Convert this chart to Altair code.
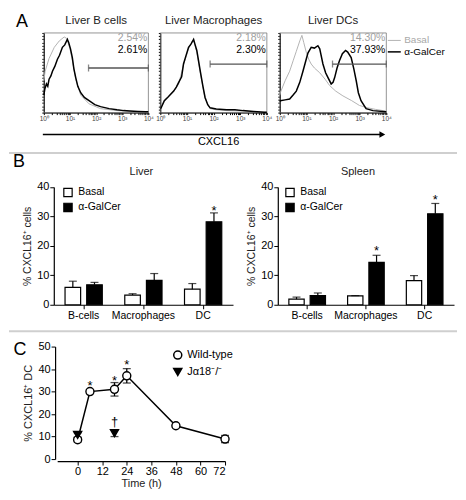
import math
import altair as alt
import pandas as pd

FONT = "Liberation Sans"
W, H = 450, 484
SERIES = ["Basal", "α-GalCer"]

# ---------------- Panel A: CXCL16 histograms (x = log10 decade, y = % of max) ----------------
hist_titles = ["Liver B cells", "Liver Macrophages", "Liver DCs"]
hist_decade_labels = ["10⁰", "10¹", "10²", "10³", "10⁴"]

bcell_basal_dec = [0.0, 0.05, 0.2, 0.4, 0.59, 0.78, 0.88, 1.0, 1.09, 1.22, 1.41, 1.73, 2.17, 2.8, 3.3, 3.9, 4.0]
bcell_basal_pct = [40, 52, 68, 82, 90, 95, 93, 80, 66, 42, 22, 11, 5, 2.5, 1.5, 0.8, 0.8]
bcell_agal_dec = [0.0, 0.04, 0.1, 0.15, 0.2, 0.27, 0.33, 0.42, 0.52, 0.6, 0.71, 0.8, 0.9, 0.95, 1.02, 1.09,
                  1.15, 1.22, 1.3, 1.41, 1.55, 1.73, 1.95, 2.17, 2.5, 2.8, 3.05, 3.3, 3.6, 3.9, 4.0]
bcell_agal_pct = [22, 30, 36, 33, 42, 46, 52, 58, 67, 72, 82, 85, 92, 88, 80, 69,
                  55, 44, 33, 25, 19, 15, 10, 7.5, 5, 3.5, 2.5, 2, 1.5, 1, 1]

mac_basal_dec = [0.0, 0.15, 0.3, 0.5, 0.69, 0.87, 1.06, 1.2, 1.25, 1.37, 1.5, 1.68, 1.87, 2.1, 2.5, 3.1, 3.9, 4.0]
mac_basal_pct = [5, 14, 20, 26, 36, 60, 80, 90, 90, 76, 50, 18, 5, 3.5, 2.5, 2, 0.5, 0.5]
mac_agal_dec = [0.0, 0.03, 0.15, 0.3, 0.5, 0.6, 0.69, 0.8, 0.87, 0.95, 1.06, 1.15, 1.25, 1.3, 1.37, 1.45,
                1.5, 1.6, 1.68, 1.78, 1.87, 2.1, 2.49, 2.8, 3.1, 3.5, 3.9, 4.0]
mac_agal_pct = [5, 6, 15, 20, 27, 32, 38, 45, 61, 70, 82, 86, 92, 86, 78, 62,
                52, 33, 19, 10, 6, 4.5, 3.5, 3.5, 2.5, 1.5, 0.5, 0.5]

dc_basal_dec = [0.0, 0.02, 0.2, 0.37, 0.5, 0.62, 0.75, 0.83, 0.9, 1.0, 1.1, 1.18, 1.3, 1.5, 1.7, 1.87,
                2.1, 2.37, 2.7, 2.99, 3.3, 3.6, 3.97, 4.0]
dc_basal_pct = [22, 25, 40, 52, 65, 77, 90, 97, 88, 75, 66, 61, 56, 50, 42, 34,
                27, 21, 15, 9, 6, 4, 2, 2]
dc_agal_dec = [0.0, 0.02, 0.2, 0.37, 0.5, 0.62, 0.75, 0.87, 1.0, 1.06, 1.18, 1.3, 1.43, 1.5, 1.62, 1.72,
               1.81, 1.93, 2.0, 2.06, 2.15, 2.24, 2.35, 2.47, 2.55, 2.68, 2.78, 2.87, 2.95, 3.05,
               3.24, 3.5, 3.97, 4.0]
dc_agal_pct = [14, 15, 16, 17, 22, 27, 38, 52, 68, 75, 82, 81, 84, 80, 61, 50,
               44, 36, 38, 44, 56, 65, 74, 78, 76, 69, 55, 40, 25, 15,
               5, 2.5, 1, 1]

basal_pct_labels = ["2.54%", "2.18%", "14.30%"]
agal_pct_labels = ["2.61%", "2.30%", "37.93%"]
gate_start_dec = [1.71, 1.87, 1.98]
gate_level = [56, 61, 61]

# ---------------- Panel B: % CXCL16+ cells ----------------
CELLS = ["B-cells", "Macrophages", "DC"]
liver_basal = [5.9, 3.3, 5.3]
liver_basal_err = [2.1, 0.45, 1.9]
liver_agal = [6.8, 8.3, 28.2]
liver_agal_err = [0.8, 2.3, 3.0]
liver_star_cells = ["DC"]
liver_star_y = [32.7]

spleen_basal = [1.9, 3.0, 8.2]
spleen_basal_err = [0.7, 0.1, 1.7]
spleen_agal = [3.1, 14.4, 30.9]
spleen_agal_err = [0.9, 2.4, 3.5]
spleen_star_cells = ["Macrophages", "DC"]
spleen_star_y = [19.2, 36.6]

# ---------------- Panel C: time course ----------------
GENO = ["Wild-type", "Jα18⁻/⁻"]
time_wt = [0, 6, 18, 24, 48, 72]
cxcl_wt = [8.6, 30.0, 31.0, 37.0, 14.8, 8.9]
cxcl_wt_err = [1.0, 0.8, 3.0, 3.2, 0.6, 1.6]
time_ko = [0, 18]
cxcl_ko = [10.7, 11.5]
cxcl_ko_err = [1.0, 1.5]
star_times = [6, 18, 24]
star_y = [33.7, 36.2, 43.0]
dagger_time = [18]
dagger_y = [16.6]
time_ticks = [0, 12, 24, 36, 48, 60, 72]

# ---------------- layout (pixels in chart coordinates) ----------------
A_X_RANGES = [[35, 140], [152, 259], [272, 379]]
A_BOTTOM, A_TOP = 104, 24
B_BOTTOM, B_TOP = 297, 178.7
C_BOTTOM, C_TOP = 452, 339
C_X_RANGE = [48.4, 217]
C_XAXIS_Y = 454
C_YAXIS_X = 46.3

minor_ticks = [k + math.log10(m) for k in range(4) for m in range(1, 10)] + [4]
dec_label_expr = ("abs(datum.value - round(datum.value)) < 0.001 ? "
                  "['10⁰','10¹','10²','10³','10⁴'][round(datum.value)] : ''")

one = pd.DataFrame({"d": [0]})
layers = []


def hist_panel(i, bx, by, ax, ay, show_legend):
    xr = A_X_RANGES[i]
    xs = alt.Scale(domain=[0, 4], range=xr, nice=False, zero=False)
    ys = alt.Scale(domain=[0, 100], range=[A_BOTTOM, A_TOP], nice=False, zero=False)
    df = pd.DataFrame({"dec": bx + ax, "pct": by + ay,
                       "series": ["Basal"] * len(bx) + ["α-GalCer"] * len(ax)})
    legend = None
    if show_legend:
        legend = alt.Legend(title=None, orient="none", legendX=381, legendY=26,
                            symbolType="M-1.3,0L1.3,0", symbolSize=100, symbolStrokeWidth=1.6,
                            labelFontSize=10, labelOffset=4, rowPadding=0,
                            labelColor={"expr": "datum.label == 'Basal' ? '#a8a8a8' : '#000000'"})
    lines = alt.Chart(df).mark_line().encode(
        x=alt.X("dec:Q", scale=xs, axis=alt.Axis(
            orient="bottom", offset=A_BOTTOM - H, values=minor_ticks, labelExpr=dec_label_expr,
            tickSize=2, labelFontSize=6.5, labelColor="#444", labelPadding=1, title=None,
            labelFlush=False, labelOverlap=False, domainWidth=1)),
        y=alt.Y("pct:Q", scale=ys, axis=alt.Axis(
            orient="left", offset=-xr[0], values=list(range(0, 101, 4)), labels=False,
            tickSize=2, title=None, domainWidth=1)),
        color=alt.Color("series:N", scale=alt.Scale(domain=SERIES, range=["#b3b3b3", "#000000"]),
                        legend=legend),
        strokeWidth=alt.StrokeWidth("series:N", scale=alt.Scale(domain=SERIES, range=[1.0, 1.5]),
                                    legend=None),
    )
    frame = alt.Chart(pd.DataFrame({"x0": [0], "x1": [4], "y0": [0], "y1": [100]})).mark_rect(
        fillOpacity=0, stroke="#666", strokeWidth=0.7).encode(
        x=alt.X("x0:Q", scale=xs, axis=None), x2="x1:Q",
        y=alt.Y("y0:Q", scale=ys, axis=None), y2="y1:Q")
    gdf = pd.DataFrame({"g0": [gate_start_dec[i]], "g1": [4], "lvl": [gate_level[i]]})
    gate = alt.Chart(gdf).mark_rule(color="#555", strokeWidth=1.3).encode(
        x=alt.X("g0:Q", scale=xs, axis=None), x2="g1:Q",
        y=alt.Y("lvl:Q", scale=ys, axis=None))
    cdf = pd.DataFrame({"gx": [gate_start_dec[i], 4], "lvl": [gate_level[i]] * 2})
    caps = alt.Chart(cdf).mark_tick(color="#555", orient="vertical", size=7, thickness=1.3).encode(
        x=alt.X("gx:Q", scale=xs, axis=None), y=alt.Y("lvl:Q", scale=ys, axis=None))
    tdf = pd.DataFrame({"x": [4, 4], "y": [94, 78],
                        "t": [basal_pct_labels[i], agal_pct_labels[i]], "c": ["#a0a0a0", "#000000"]})
    pct = alt.Chart(tdf).mark_text(align="right", baseline="middle", fontSize=10.5, dx=-1).encode(
        x=alt.X("x:Q", scale=xs, axis=None), y=alt.Y("y:Q", scale=ys, axis=None),
        text="t:N", color=alt.Color("c:N", scale=None))
    ttl = alt.Chart(pd.DataFrame({"x": [2], "y": [115], "t": [hist_titles[i]]})).mark_text(
        baseline="middle", fontSize=11.5, color="#222").encode(
        x=alt.X("x:Q", scale=xs, axis=None), y=alt.Y("y:Q", scale=ys, axis=None), text="t:N")
    return [frame, lines, gate, caps, pct, ttl]


layers += hist_panel(0, bcell_basal_dec, bcell_basal_pct, bcell_agal_dec, bcell_agal_pct, False)
layers += hist_panel(1, mac_basal_dec, mac_basal_pct, mac_agal_dec, mac_agal_pct, False)
layers += hist_panel(2, dc_basal_dec, dc_basal_pct, dc_agal_dec, dc_agal_pct, True)

# CXCL16 arrow and label
layers.append(alt.Chart(one).mark_rule(color="black", strokeWidth=1.5).encode(
    x=alt.value(34), x2=alt.value(373), y=alt.value(126)))
layers.append(alt.Chart(one).mark_point(shape="triangle-right", filled=True, color="black",
                                        size=45, opacity=1).encode(x=alt.value(375), y=alt.value(126)))
layers.append(alt.Chart(one).mark_text(text="CXCL16", fontSize=11, baseline="middle").encode(
    x=alt.value(210.5), y=alt.value(133.5)))


def bar_panel(xr, basal, basal_err, agal, agal_err, s_cells, s_y, title, title_dx, legend_x):
    df = pd.DataFrame({"cell": CELLS * 2, "group": ["Basal"] * 3 + ["α-GalCer"] * 3,
                       "value": basal + agal, "err": basal_err + agal_err})
    xs = alt.Scale(domain=CELLS, range=xr, paddingInner=0.275, paddingOuter=0.1375)
    xo = alt.Scale(domain=SERIES, paddingInner=0.28, paddingOuter=0.14)
    ys = alt.Scale(domain=[0, 40], range=[B_BOTTOM, B_TOP], nice=False, zero=False)
    base = alt.Chart(df).transform_calculate(top="datum.value + datum.err")
    leg = alt.Legend(title=None, orient="none", legendX=legend_x, legendY=179, symbolType="square",
                     symbolSize=70, symbolStrokeColor="black", symbolStrokeWidth=1.2,
                     labelFontSize=10.5, labelOffset=5, rowPadding=1)
    bars = base.mark_bar(stroke="black", strokeWidth=1.2).encode(
        x=alt.X("cell:N", scale=xs, axis=alt.Axis(
            orient="bottom", offset=B_BOTTOM - H, title=None, labelAngle=0, labelFontSize=10.5,
            tickSize=4, labelPadding=2, domainWidth=1.2)),
        xOffset=alt.XOffset("group:N", scale=xo),
        y=alt.Y("value:Q", scale=ys, axis=alt.Axis(
            orient="left", offset=-xr[0], values=[0, 10, 20, 30, 40], tickSize=4, labelFontSize=11,
            labelPadding=1, title="% CXCL16⁺ cells", titleFontSize=10.5, titlePadding=4,
            domainWidth=1.2)),
        fill=alt.Fill("group:N", scale=alt.Scale(domain=SERIES, range=["white", "black"]), legend=leg))
    err = base.mark_rule(color="black", strokeWidth=1.2).encode(
        x=alt.X("cell:N", scale=xs, axis=None), xOffset=alt.XOffset("group:N", scale=xo),
        y=alt.Y("value:Q", scale=ys, axis=None), y2="top:Q")
    cap = base.mark_tick(color="black", thickness=1.2, size=8, orient="horizontal").encode(
        x=alt.X("cell:N", scale=xs, axis=None), xOffset=alt.XOffset("group:N", scale=xo),
        y=alt.Y("top:Q", scale=ys, axis=None))
    sdf = pd.DataFrame({"cell": s_cells, "group": ["α-GalCer"] * len(s_cells), "y": s_y})
    stars = alt.Chart(sdf).mark_text(text="*", fontSize=13, baseline="middle", dy=3, dx=-6).encode(
        x=alt.X("cell:N", scale=xs, axis=None), xOffset=alt.XOffset("group:N", scale=xo),
        y=alt.Y("y:Q", scale=ys, axis=None))
    ttl = alt.Chart(pd.DataFrame({"cell": ["Macrophages"], "y": [45], "t": [title]})).mark_text(
        baseline="middle", fontSize=11, dx=title_dx, color="#222").encode(
        x=alt.X("cell:N", scale=xs, axis=None), y=alt.Y("y:Q", scale=ys, axis=None), text="t:N")
    return [bars, err, cap, stars, ttl]


layers += bar_panel([45, 225], liver_basal, liver_basal_err, liver_agal, liver_agal_err,
                    liver_star_cells, liver_star_y, "Liver", -2, 54)
layers += bar_panel([270, 447], spleen_basal, spleen_basal_err, spleen_agal, spleen_agal_err,
                    spleen_star_cells, spleen_star_y, "Spleen", -8, 277)

# ---------------- Panel C layers ----------------
cdf = pd.DataFrame({
    "time": time_wt + time_ko,
    "cxcl": cxcl_wt + cxcl_ko,
    "err": cxcl_wt_err + cxcl_ko_err,
    "genotype": [GENO[0]] * len(time_wt) + [GENO[1]] * len(time_ko),
})
xsC = alt.Scale(domain=[-10, 72], range=C_X_RANGE, nice=False, zero=False)
ysC = alt.Scale(domain=[0, 50], range=[C_BOTTOM, C_TOP], nice=False, zero=False)
cbase = alt.Chart(cdf).transform_calculate(lo="datum.cxcl - datum.err", hi="datum.cxcl + datum.err")
layers.append(cbase.mark_rule(color="black", strokeWidth=1.3).encode(
    x=alt.X("time:Q", scale=xsC, axis=None), y=alt.Y("lo:Q", scale=ysC, axis=None), y2="hi:Q"))
for fld in ["lo", "hi"]:
    layers.append(cbase.mark_tick(color="black", thickness=1.3, size=8, orient="horizontal").encode(
        x=alt.X("time:Q", scale=xsC, axis=None), y=alt.Y(f"{fld}:Q", scale=ysC, axis=None)))
layers.append(alt.Chart(cdf[cdf.genotype == GENO[0]]).mark_line(color="black", strokeWidth=1.5).encode(
    x=alt.X("time:Q", scale=xsC, axis=None), y=alt.Y("cxcl:Q", scale=ysC, axis=None)))
legC = alt.Legend(title=None, orient="none", legendX=164, legendY=342, symbolSize=65,
                  symbolStrokeWidth=1.5, labelFontSize=11, rowPadding=3, labelOffset=4)
layers.append(alt.Chart(cdf).mark_point(filled=True, strokeWidth=1.4, opacity=1, size=65).encode(
    x=alt.X("time:Q", scale=xsC, axis=alt.Axis(
        orient="bottom", offset=C_XAXIS_Y - H, values=time_ticks, title="Time (h)", tickSize=4,
        labelFontSize=11, labelPadding=1, titleFontSize=11, titlePadding=1, domainWidth=1.2)),
    y=alt.Y("cxcl:Q", scale=ysC, axis=alt.Axis(
        orient="left", offset=-C_YAXIS_X, values=[0, 10, 20, 30, 40, 50], title="% CXCL16⁺ DC",
        tickSize=4, labelFontSize=11, labelPadding=1, titleFontSize=11, titlePadding=4,
        domainWidth=1.2)),
    shape=alt.Shape("genotype:N", scale=alt.Scale(domain=GENO, range=["circle", "triangle-down"]),
                    legend=legC),
    fill=alt.Fill("genotype:N", scale=alt.Scale(domain=GENO, range=["white", "black"]), legend=legC),
    stroke=alt.Stroke("genotype:N", scale=alt.Scale(domain=GENO, range=["black", "black"]), legend=legC),
))
layers.append(alt.Chart(pd.DataFrame({"t": star_times, "y": star_y})).mark_text(
    text="*", fontSize=13, baseline="middle", dy=3).encode(
    x=alt.X("t:Q", scale=xsC, axis=None), y=alt.Y("y:Q", scale=ysC, axis=None)))
layers.append(alt.Chart(pd.DataFrame({"t": dagger_time, "y": dagger_y})).mark_text(
    text="†", fontSize=13, baseline="middle").encode(
    x=alt.X("t:Q", scale=xsC, axis=None), y=alt.Y("y:Q", scale=ysC, axis=None)))

# ---------------- panel letters and separators ----------------
for letter, px, py in [("A", 13, 13), ("B", 10, 154), ("C", 11, 342)]:
    layers.append(alt.Chart(one).mark_text(text=letter, fontSize=18, baseline="middle").encode(
        x=alt.value(px), y=alt.value(py)))
for sy in [144.5, 323.5]:
    layers.append(alt.Chart(one).mark_rule(color="#cfcfcf", strokeWidth=2).encode(
        x=alt.value(0), x2=alt.value(W), y=alt.value(sy)))

chart = alt.layer(*layers).resolve_scale(
    x="independent", y="independent", xOffset="independent", color="independent",
    fill="independent", shape="independent", stroke="independent", strokeWidth="independent",
).resolve_axis(x="independent", y="independent").resolve_legend(
    color="independent", fill="independent", shape="independent", stroke="independent"
).properties(
    width=W, height=H, padding=0, background="white"
).configure(font=FONT).configure_view(stroke=None).configure_axis(
    grid=False, labelFont=FONT, titleFont=FONT, domainColor="black", tickColor="black",
    labelColor="black", titleColor="#222", titleFontWeight="normal"
).configure_legend(labelFont=FONT, labelColor="black")

chart.save("out.html", embed_options={"renderer": "svg", "actions": False})
